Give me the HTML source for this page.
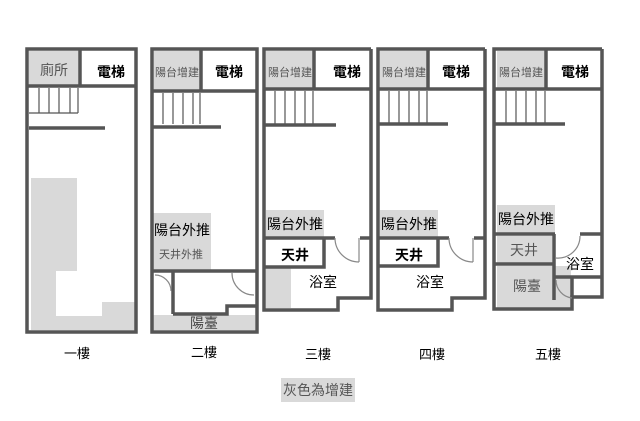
<!DOCTYPE html>
<html><head><meta charset="utf-8"><style>
html,body{margin:0;padding:0;background:#fff;}
svg{display:block;font-family:"Liberation Sans","Noto Sans CJK TC",sans-serif;}
</style></head><body>
<svg width="640" height="421" viewBox="0 0 640 421" xmlns="http://www.w3.org/2000/svg">
<g fill="#d9d9d9" stroke="none">
<rect x="29" y="51" width="50" height="35"/>
<rect x="31" y="178" width="46" height="93"/>
<rect x="31" y="271" width="25" height="59"/>
<rect x="56" y="316" width="46" height="14"/>
<rect x="102" y="302" width="33" height="28"/>
<rect x="154" y="51" width="46" height="39"/>
<rect x="153" y="213" width="58" height="57"/>
<rect x="153" y="315" width="102" height="15"/>
<rect x="266" y="51" width="47" height="37"/>
<rect x="266" y="210" width="58" height="27"/>
<rect x="266" y="268" width="25" height="40"/>
<rect x="380" y="51" width="47" height="37"/>
<rect x="380" y="210" width="58" height="27"/>
<rect x="497" y="51" width="48" height="37"/>
<rect x="497" y="205" width="58" height="28"/>
<rect x="497" y="236" width="55" height="27"/>
<rect x="497" y="266" width="74" height="42"/>
<rect x="281" y="378" width="74" height="24"/>
</g>
<g fill="none" stroke="#555" stroke-width="3.5">
<rect x="27" y="49" width="109" height="283"/>
<line x1="80" y1="49" x2="80" y2="86"/>
<line x1="27" y1="86" x2="136" y2="86"/>
<line x1="29" y1="128" x2="105" y2="128"/>
<rect x="152" y="49" width="105" height="283"/>
<line x1="201" y1="49" x2="201" y2="91"/>
<line x1="152" y1="91" x2="257" y2="91"/>
<line x1="152" y1="127" x2="221" y2="127"/>
<line x1="152" y1="271" x2="257" y2="271"/>
<line x1="173" y1="271" x2="173" y2="314"/>
<polyline points="173,314 227,314 227,306 257,306"/>
<polyline points="371,49 264,49 264,310 338,310 338,298 371,298 371,49"/>
<line x1="314" y1="49" x2="314" y2="89"/>
<line x1="264" y1="89" x2="371" y2="89"/>
<line x1="264" y1="125" x2="336" y2="125"/>
<line x1="264" y1="238" x2="335" y2="238"/>
<line x1="360" y1="238" x2="371" y2="238"/>
<polyline points="324,238 324,267 264,267"/>
<polyline points="485,49 378,49 378,310 452,310 452,298 485,298 485,49"/>
<line x1="428" y1="49" x2="428" y2="89"/>
<line x1="378" y1="89" x2="485" y2="89"/>
<line x1="378" y1="124" x2="448" y2="124"/>
<line x1="378" y1="238" x2="449" y2="238"/>
<line x1="474" y1="238" x2="485" y2="238"/>
<polyline points="438,238 438,266 378,266"/>
<polyline points="602,49 494,49 494,309 572,309 572,297 602,297 602,49"/>
<line x1="546" y1="49" x2="546" y2="89"/>
<line x1="494" y1="89" x2="602" y2="89"/>
<line x1="494" y1="124" x2="565" y2="124"/>
<line x1="494" y1="234" x2="555" y2="234"/>
<line x1="580" y1="234" x2="602" y2="234"/>
<line x1="554" y1="234" x2="554" y2="300"/>
<line x1="494" y1="264" x2="554" y2="264"/>
<line x1="554" y1="277" x2="602" y2="277"/>
<line x1="572" y1="277" x2="572" y2="297"/>
</g>
<g stroke="#555" stroke-width="1.2" fill="none">
<path d="M39 88V113M49 88V113M59 88V113M70 88V113M78 88V113M29 113H78"/>
<path d="M163 93V124M173 93V124M183 93V124M193 93V124M200 93V124"/>
<path d="M275 91V124M285 91V124M295 91V124M305 91V124M313 91V124"/>
<path d="M389 91V123M399 91V123M409 91V123M419 91V123M427 91V123"/>
<path d="M506 91V123M516 91V123M526 91V123M536 91V123M545 91V123"/>
<g stroke="#888">
<path d="M335 238 A24 24 0 0 0 359 262 M359 238V262"/>
<path d="M449 238 A24 24 0 0 0 473 262 M473 238V262"/>
<path d="M580 236 A22 22 0 0 1 556 258"/>
<path d="M556 280 A18 18 0 0 0 572 298"/>
<path d="M232 273 A22 22 0 0 0 254 295"/>
<path d="M155 275 A16 16 0 0 1 171 291"/>
</g>
</g>
<g font-size="14" fill="#000">
<text x="54" y="75" text-anchor="middle" fill="#555">廁所</text>
<text x="111" y="77" text-anchor="middle" font-weight="bold">電梯</text>
<text x="177" y="76" text-anchor="middle" font-size="11" fill="#555">陽台增建</text>
<text x="229" y="77" text-anchor="middle" font-weight="bold">電梯</text>
<text x="290" y="76" text-anchor="middle" font-size="11" fill="#555">陽台增建</text>
<text x="347" y="77" text-anchor="middle" font-weight="bold">電梯</text>
<text x="404" y="76" text-anchor="middle" font-size="11" fill="#555">陽台增建</text>
<text x="456" y="77" text-anchor="middle" font-weight="bold">電梯</text>
<text x="521" y="76" text-anchor="middle" font-size="11" fill="#555">陽台增建</text>
<text x="575" y="77" text-anchor="middle" font-weight="bold">電梯</text>
<text x="182" y="235" text-anchor="middle">陽台外推</text>
<text x="181" y="258" text-anchor="middle" font-size="11" fill="#555">天井外推</text>
<text x="204" y="328" text-anchor="middle" fill="#444">陽臺</text>
<text x="295" y="229" text-anchor="middle">陽台外推</text>
<text x="295" y="260" text-anchor="middle" font-weight="bold">天井</text>
<text x="323" y="287" text-anchor="middle">浴室</text>
<text x="409" y="229" text-anchor="middle">陽台外推</text>
<text x="409" y="260" text-anchor="middle" font-weight="bold">天井</text>
<text x="430" y="287" text-anchor="middle">浴室</text>
<text x="526" y="224" text-anchor="middle">陽台外推</text>
<text x="524" y="255" text-anchor="middle" fill="#555">天井</text>
<text x="580" y="269" text-anchor="middle">浴室</text>
<text x="527" y="291" text-anchor="middle" fill="#555">陽臺</text>
<text x="77" y="358" text-anchor="middle" font-size="13">一樓</text>
<text x="204" y="357" text-anchor="middle" font-size="13">二樓</text>
<text x="318" y="359" text-anchor="middle" font-size="13">三樓</text>
<text x="432" y="359" text-anchor="middle" font-size="13">四樓</text>
<text x="548" y="359" text-anchor="middle" font-size="13">五樓</text>
<text x="318" y="395" text-anchor="middle" fill="#555">灰色為增建</text>
</g>
</svg>
</body></html>
